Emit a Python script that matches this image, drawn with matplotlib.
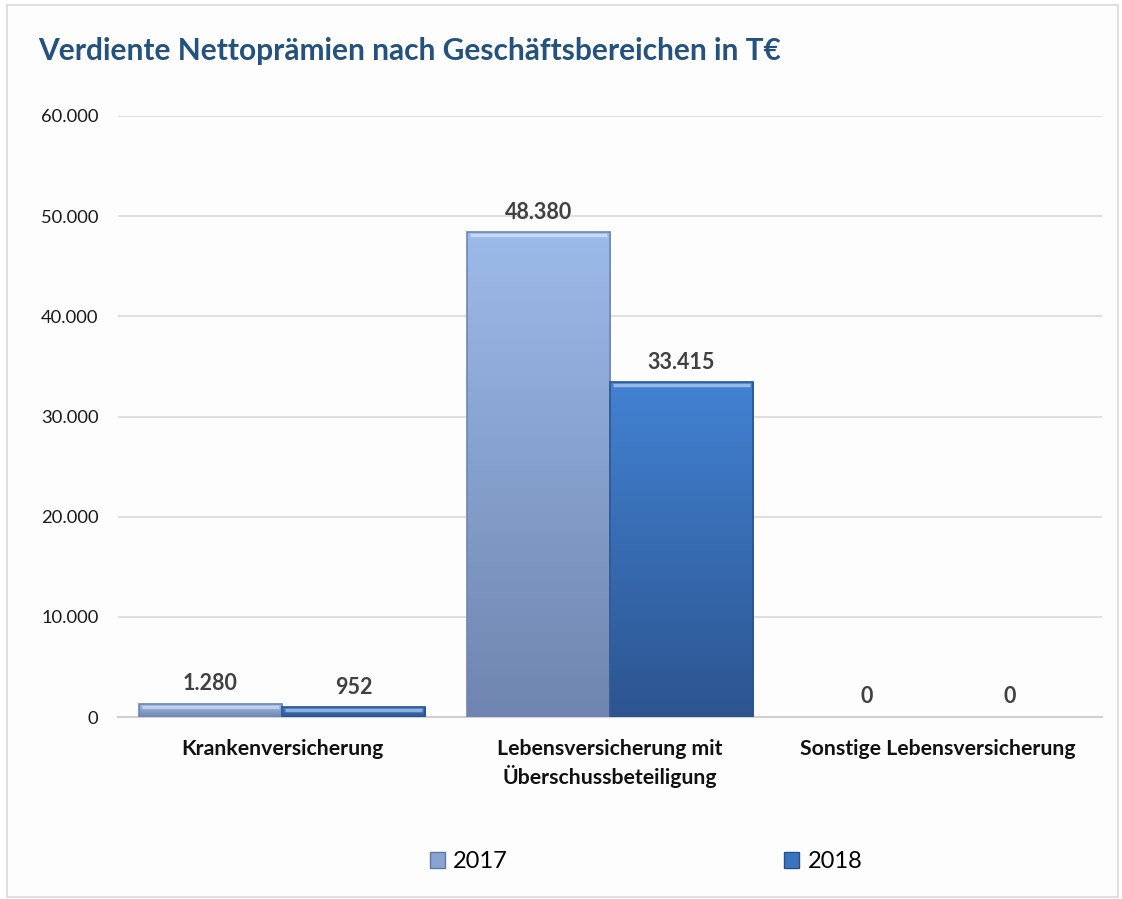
import matplotlib
matplotlib.use("Agg")
import matplotlib.pyplot as plt
import numpy as np
from matplotlib.patches import Rectangle
from matplotlib.colors import LinearSegmentedColormap

plt.rcParams['font.family'] = ['Lato', 'DejaVu Sans']

# data
categories = ["Krankenversicherung", "Lebensversicherung mit\nÜberschussbeteiligung", "Sonstige Lebensversicherung"]
years = ["2017", "2018"]
values_2017 = [1280, 48380, 0]
values_2018 = [952, 33415, 0]
labels_2017 = ["1.280", "48.380", "0"]
labels_2018 = ["952", "33.415", "0"]
yticks = [0, 10000, 20000, 30000, 40000, 50000, 60000]
ytick_labels = ["0", "10.000", "20.000", "30.000", "40.000", "50.000", "60.000"]

# gradient colours (top, bottom)
grad_2017 = ("#9CBAE9", "#6F85AF")
grad_2018 = ("#4282D2", "#2C5590")
edge_2017 = "#6E86B4"
edge_2018 = "#2A5490"

fig = plt.figure(figsize=(11.22, 8.99), dpi=100)
fig.patch.set_facecolor("white")
# thin frame around the chart
fig.patches.append(Rectangle((7 / 1122, 2 / 899), 1111 / 1122, 892 / 899, transform=fig.transFigure,
                             facecolor="#FDFDFD", edgecolor="#D9D9D9", linewidth=1.2, zorder=-10))

ax = fig.add_axes([118 / 1122, 182 / 899, 984 / 1122, 601 / 899])
ax.set_facecolor("none")

x = np.arange(len(categories))
w = 0.436


def gradient_bars(bars, cols, edge):
    cmap = LinearSegmentedColormap.from_list("g", [cols[1], cols[0]])
    grad = np.linspace(0, 1, 256).reshape(-1, 1)
    for b in bars:
        h = b.get_height()
        if h <= 0:
            continue
        x0 = b.get_x()
        im = ax.imshow(grad, cmap=cmap, aspect="auto", origin="lower",
                       extent=(x0, x0 + b.get_width(), 0, h), zorder=3)
        im.set_clip_path(b)
        b.set_facecolor("none")
        b.set_edgecolor(edge)
        b.set_linewidth(1.2)
        b.set_zorder(4)
        # light bevel on top
        ax.plot([x0 + 0.01, x0 + b.get_width() - 0.01], [h - 250, h - 250],
                color="white", alpha=0.45, lw=2.5, zorder=5, solid_capstyle="butt")


b17 = ax.bar(x - w / 2, values_2017, w, color=grad_2017[0], label=years[0])
b18 = ax.bar(x + w / 2, values_2018, w, color=grad_2018[0], label=years[1])
gradient_bars(b17, grad_2017, edge_2017)
gradient_bars(b18, grad_2018, edge_2018)

for bars, labs in ((b17, labels_2017), (b18, labels_2018)):
    for b, t in zip(bars, labs):
        ax.annotate(t, (b.get_x() + b.get_width() / 2, b.get_height()),
                    xytext=(0, 7), textcoords="offset points", ha="center", va="bottom",
                    fontsize=15.5, fontweight="bold", color="#404040", zorder=6)

ax.set_xlim(-0.5, 2.5)
ax.set_ylim(0, 60000)
ax.set_yticks(yticks)
ax.set_yticklabels(ytick_labels, fontsize=13.2, color="#1a1a1a")
ax.set_xticks(x)
ax.set_xticklabels(categories, fontsize=15.3, fontweight="bold", color="#111111", linespacing=1.3)
ax.tick_params(axis="y", length=0, pad=14)
ax.tick_params(axis="x", length=0, pad=16)
ax.yaxis.grid(True, color="#D9D9D9", linewidth=1.2)
ax.set_axisbelow(True)
for s in ("top", "right", "left"):
    ax.spines[s].set_visible(False)
ax.spines["bottom"].set_color("#D0D0D0")
ax.spines["bottom"].set_linewidth(1.5)

fig.text(38 / 1122, 1 - 51 / 899, "Verdiente Nettoprämien nach Geschäftsbereichen in T€",
         fontsize=21.5, fontweight="bold", color="#24527F", ha="left", va="center")

# legend
handles = [Rectangle((0, 0), 1, 1, facecolor="#8AA4D2", edgecolor="#5F77A3"),
           Rectangle((0, 0), 1, 1, facecolor="#3A74BE", edgecolor="#27508A")]
fig.legend(handles, years, loc="center", bbox_to_anchor=(646 / 1122, 1 - 862 / 899), ncol=2,
           frameon=False, fontsize=17, handlelength=0.65, handleheight=0.65,
           handletextpad=0.35, columnspacing=11.7)

fig.savefig("out.png", dpi=100)
